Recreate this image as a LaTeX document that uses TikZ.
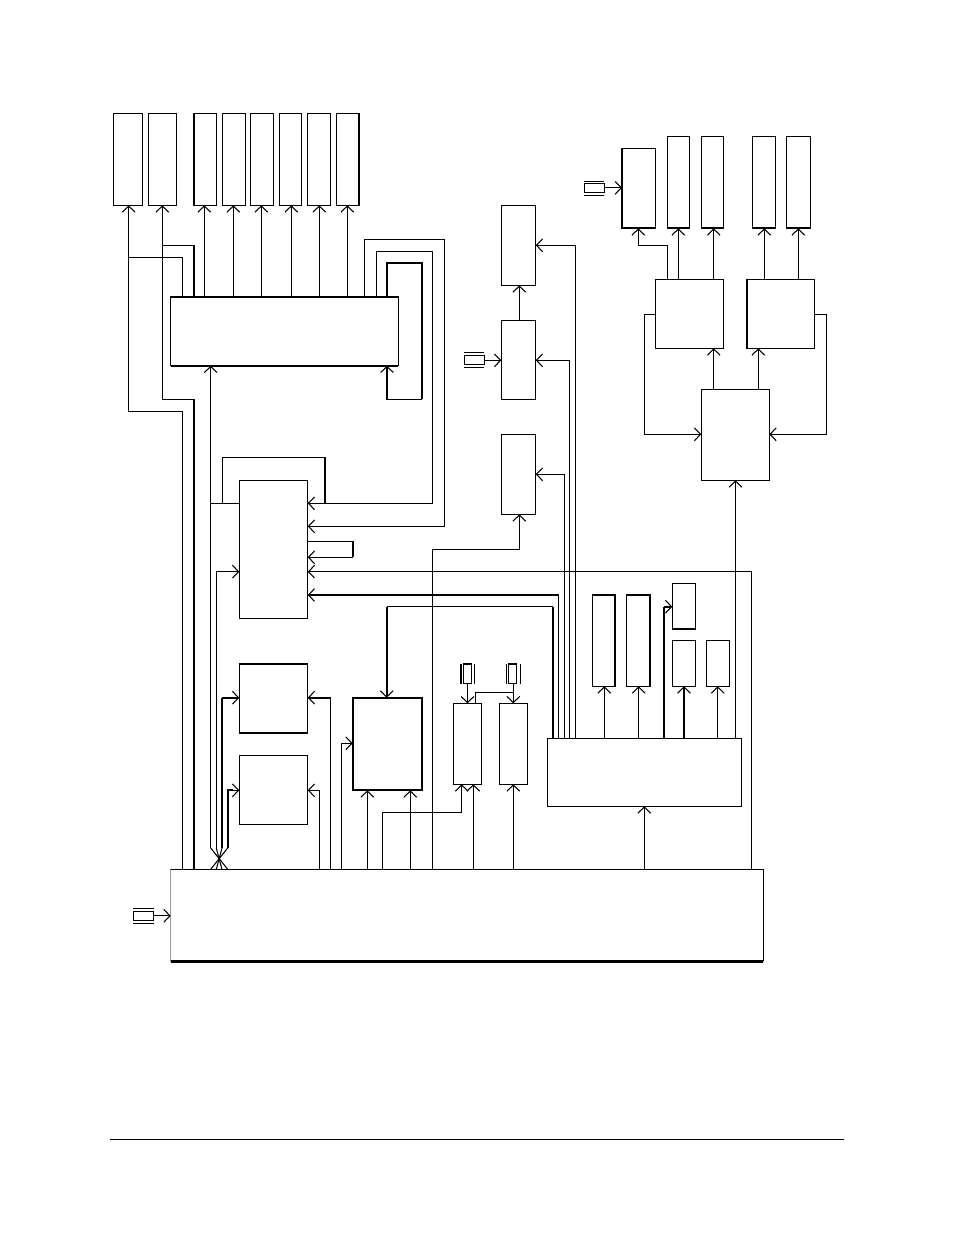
\documentclass[tikz,border=0pt]{standalone}
\usepackage{xcolor}
\usetikzlibrary{arrows.meta}
\definecolor{ink}{HTML}{000000}
\definecolor{edgegray}{HTML}{999999}
\tikzset{
  box/.style={draw=ink, line width=0.8pt, rectangle, inner sep=0pt, outer sep=0pt, fill=white},
  wire/.style={draw=ink, line width=0.8pt, line join=miter},
  medium/.style={draw=ink, line width=1.15pt, line join=miter},
  heavy/.style={draw=ink, line width=1.7pt, line join=miter},
  feed/.style={wire, -{Straight Barb[length=4.6pt,width=9.6pt,line width=0.8pt]}},
  hfeed/.style={heavy, -{Straight Barb[length=4.6pt,width=9.6pt,line width=0.8pt]}},
}
% name, left, top, right, bottom (in reference pixels)
\newcommand{\blk}[5]{\node[box, minimum width={(#4-#2)*0.75pt}, minimum height={(#5-#3)*0.75pt}] (#1) at ({(#2+#4)/2},{(#3+#5)/2}) {};}
\begin{document}
\begin{tikzpicture}[x=0.75pt,y=-0.75pt]
  \useasboundingbox (0,0) rectangle (954,1235);
  % top row
  \blk{outA}{113.3}{113.3}{142.7}{205.3}
  \blk{outB}{148.3}{113.3}{176.7}{205.3}
  \blk{drvA}{194.0}{113.3}{216.7}{205.3}
  \blk{drvB}{222.3}{113.3}{245.7}{205.3}
  \blk{drvC}{250.3}{113.3}{273.7}{205.3}
  \blk{drvD}{279.3}{113.3}{301.7}{205.3}
  \blk{drvE}{307.3}{113.3}{330.7}{205.3}
  \blk{drvF}{336.7}{113.3}{359.0}{205.3}
  \draw[heavy] (drvA.north west) -- (drvA.south west);
  \draw[heavy] (drvF.north east) -- (drvF.south east);
  \blk{bus}{170.7}{297}{398.3}{365.7}
  \draw[heavy] (bus.north west) -- (bus.north east);
  \draw[heavy] (bus.south west) -- (bus.south east);
  % left column
  \blk{regC}{239.3}{480.3}{307.7}{618.3}
  \blk{regE}{239.3}{664}{307.7}{732.7}
  \draw[heavy] (regE.north west) -- (regE.north east);
  \draw[heavy] (regE.south west) -- (regE.south east);
  \blk{regF}{239.3}{755.3}{307.7}{824.3}
  \blk{regD}{352.7}{697.7}{422}{790.3}
  \draw[heavy] (regD.north west) rectangle (regD.south east);
  \blk{cntG}{453.3}{703.3}{481.7}{784.3}
  \blk{cntH}{499.3}{703.3}{527.7}{784.3}
  % middle column
  \blk{midA}{501.3}{205.3}{535.7}{285.3}
  \blk{midB}{501.3}{320.3}{535.7}{399.3}
  \blk{midC}{501.3}{434.3}{535.7}{514.3}
  % selector and its loads
  \blk{sel}{547.3}{738.3}{741.7}{806.3}
  \blk{latA}{592.3}{594.7}{615.3}{686.3}
  \draw[heavy] (latA.north west) -- (latA.north east) -- (latA.south east);
  \blk{latB}{626.3}{594.7}{650.3}{686.3}
  \draw[heavy] (latB.north west) -- (latB.north east) -- (latB.south east);
  \blk{latC}{672.3}{583.3}{695.7}{629.3}
  \draw[heavy] (latC.south west) -- (latC.south east);
  \blk{latD}{672.3}{640.3}{695.7}{686.3}
  \blk{latE}{706.3}{640.3}{729.7}{686.3}
  % right cluster
  \blk{rtA}{622}{148.3}{655.7}{228.3}
  \draw[heavy] (rtA.north west) -- (rtA.south west) -- (rtA.south east);
  \blk{rtB}{667.3}{136.3}{689.7}{228.3}
  \draw[heavy] (rtB.south west) -- (rtB.south east);
  \blk{rtC}{701.3}{136.3}{723.7}{228.3}
  \draw[heavy] (rtC.south west) -- (rtC.south east);
  \blk{rtD}{752.3}{136.3}{775.7}{228.3}
  \draw[heavy] (rtD.south west) -- (rtD.south east);
  \blk{rtE}{786.3}{136.3}{810.7}{228.3}
  \draw[heavy] (rtE.south west) -- (rtE.south east);
  \blk{dmxA}{655.7}{279.3}{723.7}{348.3}
  \blk{dmxB}{746.7}{279.3}{814.3}{348.3}
  \draw[heavy] (dmxB.north west) -- (dmxB.south west);
  \blk{ctl}{701.3}{389.3}{769.3}{480.3}
  % big bottom block
  \node[box, draw=edgegray, minimum width={(763.3-170.7)*0.75pt}, minimum height={(961.3-869.3)*0.75pt}] (core) at ({(170.7+763.3)/2},{(869.3+961.3)/2}) {};
  \draw[wire] (core.north west) -- (core.north east) -- (core.south east);
  \draw[draw=ink, line width=2.4pt] (core.south west) -- (core.south east);
  % crystals
  \blk{xtalCore}{133.3}{911.3}{153.7}{920.3}
  \draw[wire] (133.3,908.7) -- (153.7,908.7) (133.3,923.3) -- (153.7,923.3);
  \blk{xtalMid}{464.3}{355.3}{484.3}{364.6}
  \draw[medium] (464.3,352.6) -- (484.3,352.6);
  \draw[wire] (464.3,367.6) -- (484.3,367.6);
  \draw[medium] (xtalMid.north east) -- (xtalMid.south east);
  \blk{xtalRt}{584.3}{183.3}{604.3}{192.3}
  \draw[wire] (584.3,181.3) -- (604.3,181.3) (584.3,195.3) -- (604.3,195.3);
  \blk{xtalG}{463.7}{664}{471.3}{683.7}
  \draw[medium] (xtalG.north west) -- (xtalG.north east) -- (xtalG.south east);
  \draw[wire] (461,664) -- (461,683.7) (474.7,664) -- (474.7,683.7);
  \blk{xtalH}{508.7}{664}{516.7}{683.7}
  \draw[medium] (xtalH.north west) -- (xtalH.north east);
  \draw[wire] (506.3,664) -- (506.3,683.7) (520.3,664) -- (520.3,683.7);
  \draw[feed] (xtalCore.east) -- (core.west |- xtalCore.east);
  \draw[feed] (xtalMid.east |- 0,360.3) -- (midB.west |- 0,360.3);
  \draw[feed] (xtalRt.east) -- (rtA.west |- xtalRt.east);
  \draw[feed] (xtalG.south) -- (cntG.north -| xtalG.south);
  \draw[feed] (xtalH.south -| 513.3,0) -- (cntH.north -| 513.3,0);
  \draw[wire] (513.3,692.3) -- (475.3,692.3) -- (cntG.north -| 475.3,0);
  % top row feeds
  \draw[feed] (bus.north -| 204.3,0) -- (drvA.south -| 204.3,0);
  \draw[feed] (bus.north -| 233.3,0) -- (drvB.south -| 233.3,0);
  \draw[feed] (bus.north -| 261.3,0) -- (drvC.south -| 261.3,0);
  \draw[feed] (bus.north -| 291.3,0) -- (drvD.south -| 291.3,0);
  \draw[feed] (bus.north -| 319.3,0) -- (drvE.south -| 319.3,0);
  \draw[feed] (bus.north -| 347.3,0) -- (drvF.south -| 347.3,0);
  % long feeds to the outer boxes
  \draw[feed] (core.north -| 182.3,0) -- (182.3,411.3) -- (128.7,411.3) -- (outA.south -| 128.7,0);
  \draw[wire] (128.7,257.3) -- (182.3,257.3) -- (bus.north -| 182.3,0);
  \draw[heavy] (core.north -| 194.3,0) -- (194.3,399.3);
  \draw[feed] (194.3,399.3) -- (162.3,399.3) -- (outB.south -| 162.3,0);
  \draw[wire] (162.3,245.3) -- (194.3,245.3);
  \draw[heavy] (194.3,245.3) -- (bus.north -| 194.3,0);
  % fan out of the core
  \draw[wire] (core.north -| 227.7,0) -- (210.7,848);
  \draw[wire] (core.north -| 222,0) -- (216.3,848);
  \draw[wire] (core.north -| 216.3,0) -- (222,848);
  \draw[wire] (core.north -| 210.7,0) -- (227.7,848);
  \draw[feed] (210.7,848) -- (bus.south -| 210.7,0);
  \draw[wire] (210.7,503.3) -- (regC.west |- 0,503.3);
  \draw[feed] (216.3,848) -- (216.3,571.7) -- (regC.west |- 0,571.7);
  \draw[wire] (222,848) -- (222,697.7);
  \draw[hfeed] (222,697.7) -- (regE.west |- 0,697.7);
  \draw[heavy] (227.7,848) -- (227.7,790.3) -- (233,790.3);
  \draw[feed] (233,790.3) -- (regF.west |- 0,790.3);
  % loops round the bus
  \draw[feed] (bus.north -| 364.7,0) -- (364.7,239.3) -- (444.3,239.3) -- (444.3,526.3) -- (regC.east |- 0,526.3);
  \draw[feed] (bus.north -| 376.7,0) -- (376.7,251.3) -- (432.3,251.3) -- (432.3,503.3) -- (regC.east |- 0,503.3);
  \draw[heavy] (bus.north -| 387,0) -- (387,263) -- (422,263) -- (422,399.3);
  \draw[medium, -{Straight Barb[length=4.6pt,width=9.6pt,line width=0.8pt]}] (422,399.3) -- (387,399.3) -- (bus.south -| 387,0);
  % regC neighbours
  \draw[wire] (222.3,503.3) -- (222.3,457.3) -- (324.7,457.3);
  \draw[heavy] (324.7,457.3) -- (324.7,503.3);
  \draw[wire] (regC.east |- 0,541.3) -- (352.7,541.3);
  \draw[heavy] (352.7,541.3) -- (352.7,557.3);
  \draw[feed] (352.7,557.3) -- (regC.east |- 0,557.3);
  \draw[feed] (core.north -| 751.7,0) -- (751.7,571.7) -- (regC.east |- 0,571.7);
  \draw[wire] (sel.north -| 558.7,0) -- (558.7,595);
  \draw[hfeed] (558.7,595) -- (regC.east |- 0,595);
  \draw[heavy] (sel.north -| 553,0) -- (553,606.5);
  \draw[wire] (553,606.5) -- (386.7,606.5);
  \draw[hfeed] (386.7,606.5) -- (regD.north -| 386.7,0);
  % feeds up from the core
  \draw[wire] (core.north -| 330.7,0) -- (330.7,697.7);
  \draw[hfeed] (330.7,697.7) -- (regE.east |- 0,697.7);
  \draw[feed] (core.north -| 319.3,0) -- (319.3,790.3) -- (regF.east |- 0,790.3);
  \draw[feed] (core.north -| 341.7,0) -- (341.7,743.3) -- (regD.west |- 0,743.3);
  \draw[feed] (core.north -| 367.3,0) -- (regD.south -| 367.3,0);
  \draw[feed] (core.north -| 410.3,0) -- (regD.south -| 410.3,0);
  \draw[feed] (core.north -| 382.3,0) -- (382.3,812.3) -- (461.7,812.3) -- (cntG.south -| 461.7,0);
  \draw[feed] (core.north -| 473.3,0) -- (cntG.south -| 473.3,0);
  \draw[feed] (core.north -| 513.3,0) -- (cntH.south -| 513.3,0);
  \draw[feed] (core.north -| 644.3,0) -- (sel.south -| 644.3,0);
  \draw[feed] (core.north -| 432.7,0) -- (432.7,549.3) -- (519.3,549.3) -- (midC.south -| 519.3,0);
  % middle column feeds
  \draw[feed] (midB.north -| 519.3,0) -- (midA.south -| 519.3,0);
  \draw[feed] (sel.north -| 575.3,0) -- (575.3,245.3) -- (midA.east |- 0,245.3);
  \draw[feed] (sel.north -| 569.3,0) -- (569.3,360.3) -- (midB.east |- 0,360.3);
  \draw[feed] (sel.north -| 564.5,0) -- (564.5,474.3) -- (midC.east |- 0,474.3);
  % selector loads
  \draw[feed] (sel.north -| 604.3,0) -- (latA.south -| 604.3,0);
  \draw[feed] (sel.north -| 638.7,0) -- (latB.south -| 638.7,0);
  \draw[heavy] (sel.north -| 664,0) -- (664,606.7);
  \draw[hfeed] (664,606.7) -- (latC.west |- 0,606.7);
  \draw[hfeed] (sel.north -| 684,0) -- (latD.south -| 684,0);
  \draw[feed] (sel.north -| 717.7,0) -- (latE.south -| 717.7,0);
  \draw[feed] (sel.north -| 735.5,0) -- (ctl.south -| 735.5,0);
  % right cluster feeds
  \draw[feed] (dmxA.north -| 667.7,0) -- (667.7,245.3) -- (638.3,245.3) -- (rtA.south -| 638.3,0);
  \draw[feed] (dmxA.north -| 678.3,0) -- (rtB.south -| 678.3,0);
  \draw[feed] (dmxA.north -| 713.7,0) -- (rtC.south -| 713.7,0);
  \draw[feed] (dmxB.north -| 764.3,0) -- (rtD.south -| 764.3,0);
  \draw[feed] (dmxB.north -| 798.3,0) -- (rtE.south -| 798.3,0);
  \draw[feed] (ctl.north -| 713.7,0) -- (dmxA.south -| 713.7,0);
  \draw[feed] (ctl.north -| 758.3,0) -- (dmxB.south -| 758.3,0);
  \draw[feed] (dmxA.west |- 0,314.3) -- (644.3,314.3) -- (644.3,434.3) -- (ctl.west |- 0,434.3);
  \draw[feed] (dmxB.east |- 0,314.3) -- (826.3,314.3) -- (826.3,434.3) -- (ctl.east |- 0,434.3);
  % page rule
  \draw[draw=ink, line width=0.7pt] (110,1139.4) -- (844,1139.4);
\end{tikzpicture}
\end{document}
